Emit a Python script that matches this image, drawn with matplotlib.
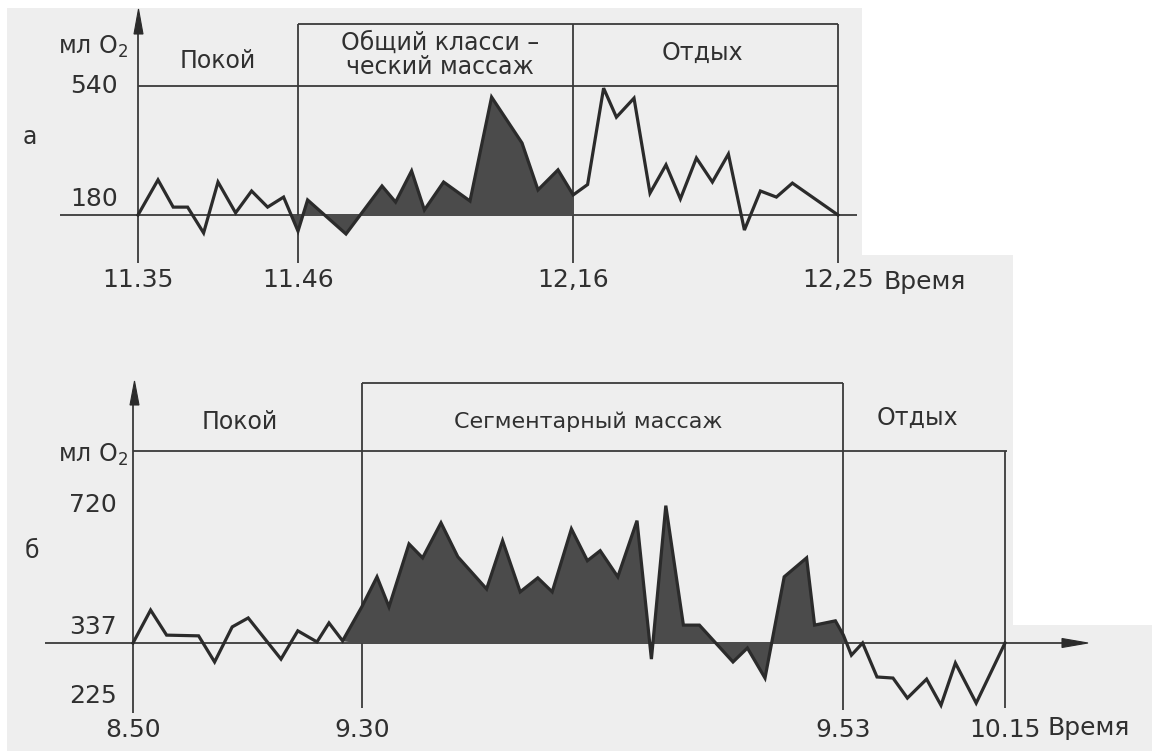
import matplotlib
matplotlib.use("Agg")
import matplotlib.pyplot as plt
from matplotlib.patches import Polygon
from matplotlib.transforms import blended_transform_factory as blend

# --- panel а: general classical massage (measurement number vs ml O2) ---
a_x = [0, 1.25, 2.2, 3.1, 4.1, 5, 6.1, 7.1, 8.1, 9.1,
       10, 10.6, 13, 15.25, 16.1, 17.1, 17.9, 19.1, 20.75, 22.1,
       24, 25, 26.25, 27.2, 28.1, 29.1, 29.9, 31, 32, 33,
       33.9, 34.9, 35.9, 36.9, 37.9, 38.9, 39.9, 40.9, 43.75]
a_y = [180, 278, 202, 202, 130, 272, 186, 247, 202, 230,
       135, 222, 127, 261, 216, 303, 194, 272, 219, 509,
       381, 250, 306, 236, 265, 534, 453, 506, 241, 320,
       225, 339, 272, 350, 138, 247, 230, 269, 180]
a_base, a_top = 180, 540
a_bounds = [0, 10, 27.2, 43.75]
a_ticks = ["11.35", "11.46", "12,16", "12,25"]
a_phases = ["Покой", "Общий класси –\nческий массаж", "Отдых"]

# --- panel б: segmental massage ---
b_x = [0, 1.1, 2.1, 4.1, 5.1, 6.2, 7.2, 9.25, 10.3, 11.5,
       12.25, 13.1, 14.3, 15.25, 16, 17.25, 18.1, 19.25, 20.3, 22.1,
       23.1, 24.2, 25.3, 26.2, 27.4, 28.4, 29.2, 30.3, 31.5, 32.4,
       33.3, 34.4, 35.4, 37.5, 38.4, 39.5, 40.7, 42.1, 42.6, 43.9,
       44.4, 44.9, 45.6, 46.5, 47.5, 48.4, 49.6, 50.5, 51.4, 52.7,
       54.5]
b_y = [337, 429, 359, 357, 284, 382, 407, 292, 371, 340,
       393, 343, 438, 522, 438, 614, 575, 673, 578, 488,
       623, 480, 519, 480, 656, 567, 595, 522, 679, 292,
       721, 387, 387, 284, 323, 239, 522, 575, 387, 399,
       359, 303, 337, 242, 239, 183, 236, 163, 281, 169,
       337]
b_base, b_top = 337, 720
b_bounds = [0, 14.3, 44.4, 54.5]
b_ticks = ["8.50", "9.30", "9.53", "10.15"]
b_phases = ["Покой", "Сегментарный массаж", "Отдых"]

INK = "#2b2b2b"
FRAME = "#3a3a3a"
FILL = "#4b4b4b"
PAPER = "#eeeeee"
TXT = dict(color="#303030", family="DejaVu Sans", fontsize=17,
           ha="center", va="center")
NUM = {**TXT, "fontsize": 18}

W, H = 1152, 751
fig = plt.figure(figsize=(W / 100, H / 100), dpi=100)
fig.patch.set_facecolor("white")

# pixel canvas for the frame, labels and paper tone
cv = fig.add_axes([0, 0, 1, 1])
cv.set_xlim(0, W)
cv.set_ylim(H, 0)
cv.set_autoscale_on(False)
cv.axis("off")
cv.add_patch(Polygon([(7, 8), (862, 8), (862, 255), (1013, 255), (1013, 625),
                      (W, 625), (W, H), (7, H)], closed=True,
                     facecolor=PAPER, edgecolor="none", zorder=0))


def data_axes(x0, x1, ytop, ybot):
    ax = fig.add_axes([x0 / W, 1 - ybot / H, (x1 - x0) / W, (ybot - ytop) / H])
    ax.axis("off")
    return ax


def frame_line(xs, ys, tr, lw=1.3):
    cv.plot(xs, ys, color=FRAME, lw=lw, transform=tr, solid_capstyle="butt",
            zorder=2)


def draw_curve(ax, x, y, base, lo, hi):
    mask = [lo <= v <= hi for v in x]
    ax.fill_between(x, y, base, where=mask, interpolate=True, color=FILL,
                    lw=0, clip_on=False, zorder=3)
    ax.plot(x, y, color=INK, lw=2.3, clip_on=False, solid_joinstyle="miter",
            zorder=4)


# ---------------- panel а ----------------
ax_a = data_axes(138, 838, 86, 215)
ax_a.set_xlim(a_bounds[0], a_bounds[-1])
ax_a.set_ylim(a_base, a_top)
draw_curve(ax_a, a_x, a_y, a_base, a_bounds[1], a_bounds[2])

ax_px = blend(ax_a.transData, cv.transData)   # x data, y pixels
px_ay = blend(cv.transData, ax_a.transData)   # x pixels, y data
frame_line([60, 857], [a_base, a_base], px_ay)
frame_line([138, 838], [a_top, a_top], px_ay)
frame_line([a_bounds[1], a_bounds[-1]], [24, 24], ax_px)
frame_line([0, 0], [30, 263], ax_px)
for b in a_bounds[1:]:
    frame_line([b, b], [24, 263], ax_px)
cv.add_patch(Polygon([(134, 34), (138.5, 9), (143, 34)], closed=True,
                     facecolor=INK, edgecolor=INK, lw=0.8, zorder=3))

for b, t in zip(a_bounds, a_ticks):
    cv.text(b, 280, t, transform=ax_px, **NUM)
cv.text(883, 282, "Время", **{**NUM, "ha": "left"})
cv.text(94, 86, "540", **NUM)
cv.text(94, 199, "180", **NUM)
cv.text(93, 47, "мл O$_2$", **TXT)
cv.text(30, 137, "а", **TXT)
cv.text(218, 61, a_phases[0], **TXT)
cv.text(440, 55, a_phases[1], linespacing=1.05, **TXT)
cv.text(702, 53, a_phases[2], **TXT)

# ---------------- panel б ----------------
ax_b = data_axes(133, 1005, 506, 643)
ax_b.set_xlim(b_bounds[0], b_bounds[-1])
ax_b.set_ylim(b_base, b_top)
draw_curve(ax_b, b_x, b_y, b_base, b_bounds[1], b_bounds[2])

bx_px = blend(ax_b.transData, cv.transData)
px_by = blend(cv.transData, ax_b.transData)
frame_line([45, 1066], [b_base, b_base], px_by)
frame_line([133, 1007], [451, 451], cv.transData)
frame_line([b_bounds[1], b_bounds[2]], [383, 383], bx_px)
frame_line([0, 0], [400, 713], bx_px)
frame_line([b_bounds[1], b_bounds[1]], [383, 708], bx_px)
frame_line([b_bounds[2], b_bounds[2]], [383, 710], bx_px)
frame_line([b_bounds[3], b_bounds[3]], [451, 708], bx_px)
cv.add_patch(Polygon([(130, 405), (134.5, 381), (139, 405)], closed=True,
                     facecolor=INK, edgecolor=INK, lw=0.8, zorder=3))
cv.add_patch(Polygon([(1062, 638.5), (1088, 643), (1062, 647.5)], closed=True,
                     facecolor=INK, edgecolor=INK, lw=0.8, zorder=3))

for b, t in zip(b_bounds, b_ticks):
    cv.text(b, 730, t, transform=bx_px, **NUM)
cv.text(1048, 728, "Время", **{**NUM, "ha": "left"})
cv.text(93, 505, "720", **NUM)
cv.text(93, 627, "337", **NUM)
cv.text(93, 696, "225", **NUM)
cv.text(93, 455, "мл O$_2$", **TXT)
cv.text(32, 551, "б", **TXT)
cv.text(240, 422, b_phases[0], **TXT)
cv.text(588, 422, b_phases[1], **{**TXT, "fontsize": 16})
cv.text(917, 418, b_phases[2], **TXT)

fig.savefig("out.png", dpi=100)
